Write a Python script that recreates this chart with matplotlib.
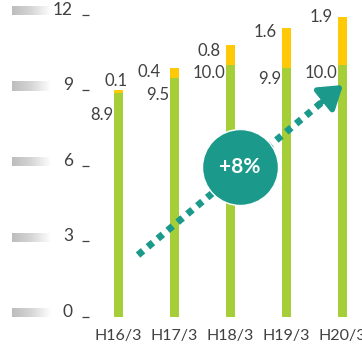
import numpy as np
import matplotlib.pyplot as plt
from matplotlib.colors import LinearSegmentedColormap

plt.rcParams['font.family'] = ['Lato', 'DejaVu Sans']

# 数据
categories = ['H16/3', 'H17/3', 'H18/3', 'H19/3', 'H20/3']
base_vals = [8.9, 9.5, 10.0, 9.9, 10.0]
top_vals = [0.1, 0.4, 0.8, 1.6, 1.9]
y_ticks = [0, 3, 6, 9, 12]
growth_text = '+8%'

green = '#A6CE39'
yellow = '#FFC907'
teal = '#1B9A8C'
txt = '#404040'

fig = plt.figure(figsize=(3.62, 3.48), dpi=100)
# 坐标轴: x=0 在 118px, 间距 56px; y=0 在 317px, 25.17px/单位
ax = fig.add_axes([90 / 362, 31 / 348, 272 / 362, 317 / 348])
ax.set_xlim(-0.5, 4.357)
ax.set_ylim(0, 317 / 25.17)
ax.axis('off')

x = np.arange(len(categories))
w = 9 / 56
ax.bar(x, base_vals, width=w, color=green, zorder=2)
ax.bar(x, top_vals, bottom=base_vals, width=w, color=yellow, zorder=2)

px = 0.72  # 1 像素对应的磅数
# 数值标签偏移 (像素)
base_dy = [-22, -17, -8, -11, -8]
top_off = [(-2, 9, 'center'), (-9, -4, 'right'), (-5, -6, 'right'), (-5, -4, 'right'), (-5, 0, 'right')]
for i in range(len(categories)):
    ax.annotate(f'{base_vals[i]:.1f}', xy=(x[i] - w / 2, base_vals[i]),
                xytext=(0, base_dy[i] * px), textcoords='offset points',
                ha='right', va='center', fontsize=12, color=txt)
    dx, dy, ha = top_off[i]
    xx = x[i] if ha == 'center' else x[i] - w / 2
    ax.annotate(f'{top_vals[i]:.1f}', xy=(xx, base_vals[i] + top_vals[i]),
                xytext=(dx * px, dy * px), textcoords='offset points',
                ha=ha, va='center', fontsize=12, color=txt)

# 类别标签
for i, c in enumerate(categories):
    ax.annotate(c, xy=(x[i], 0), xytext=(0, -19 * px), textcoords='offset points',
                ha='center', va='center', fontsize=11.5, color=txt)

# y 轴刻度: 渐变灰条 + 数字 + 短横线
grey_cmap = LinearSegmentedColormap.from_list('g', ['#BDBDBD', '#D6D6D6', '#FFFFFF'])
grad = np.linspace(0, 1, 256).reshape(1, -1)
x0 = (12 - 118) / 56
x1 = (50 - 118) / 56
for t in y_ticks:
    yc = t + 4 / 25.17
    ax.imshow(grad, cmap=grey_cmap, aspect='auto',
              extent=[x0, x1, yc - 4.5 / 25.17, yc + 4.5 / 25.17],
              clip_on=False, zorder=1)
    ax.text((73 - 118) / 56, t + 5 / 25.17, str(t), ha='right', va='center',
            fontsize=12.5, color=txt)
    ax.plot([(82 - 118) / 56, (89 - 118) / 56], [t, t], color=txt, lw=0.9,
            clip_on=False, solid_capstyle='butt')
ax.set_xlim(-0.5, 4.357)
ax.set_ylim(0, 317 / 25.17)

# 增长箭头 (虚线 + 箭头)
start = ((138 - 118) / 56, (317 - 255) / 25.17)
tip = ((343 - 118) / 56, (317 - 85) / 25.17)
mid = ((327 - 118) / 56, (317 - 98) / 25.17)
ax.plot([start[0], mid[0]], [start[1], mid[1]], color=teal, lw=5,
        linestyle=(0, (0.95, 0.9)), solid_capstyle='butt', dash_capstyle='butt', zorder=4)
ax.annotate('', xy=tip, xytext=((318 - 118) / 56, (317 - 105) / 25.17),
            arrowprops=dict(arrowstyle='-|>,head_length=1.35,head_width=0.9',
                            color=teal, lw=4, shrinkA=0, shrinkB=0), zorder=4)

# 中心圆
cx, cy = (240 - 118) / 56, (317 - 167) / 25.17
ax.plot([cx], [cy], marker='o', markersize=76 * px, color=teal,
        markeredgecolor='white', markeredgewidth=1, zorder=5)
ax.text(cx, cy, growth_text, ha='center', va='center', fontsize=15,
        fontweight='bold', color='white', zorder=6)

plt.savefig('out.png', dpi=100)
